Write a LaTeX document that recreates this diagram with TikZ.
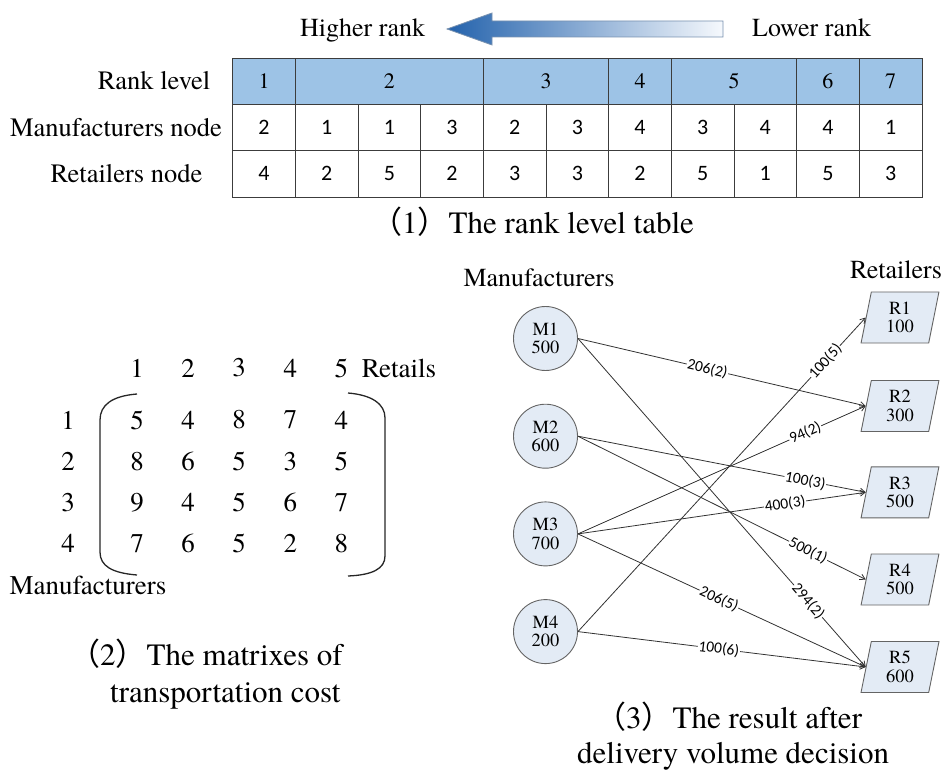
\documentclass[tikz,border=0pt]{standalone}
\usepackage{fontspec}
\setmainfont{TeX Gyre Termes}
\newfontfamily\calib{Carlito}
\newfontfamily\cjk{Noto Sans CJK SC}
\usetikzlibrary{shapes.geometric,arrows.meta}

\definecolor{hdrblue}{RGB}{157,195,230}
\definecolor{gridline}{RGB}{60,60,60}
\definecolor{nodefill}{RGB}{227,235,245}
\definecolor{nodeline}{RGB}{100,100,100}
\definecolor{edgecol}{RGB}{50,50,50}
\definecolor{arrowdark}{RGB}{35,98,172}
\definecolor{arrowmid}{RGB}{150,188,226}
\definecolor{arrowlight}{RGB}{246,249,253}
\definecolor{arrowedge}{RGB}{120,145,175}

\newcommand{\lp}{{\cjk （}}
\newcommand{\rp}{{\cjk ）}}

\begin{document}
\begin{tikzpicture}[x=1pt,y=-1pt,
  hdrcell/.style={draw=gridline, fill=hdrblue, line width=0.8pt, minimum height=46pt,
    inner sep=0pt, font=\fontsize{22}{24}\selectfont},
  numcell/.style={draw=gridline, fill=white, line width=0.8pt, minimum width=62.66pt,
    minimum height=46.5pt, inner sep=0pt, font=\calib\fontsize{22}{24}\selectfont},
  rowlbl/.style={inner sep=0pt, font=\fontsize{26.5}{30}\selectfont},
  toplbl/.style={inner sep=0pt, anchor=base west, font=\fontsize{26}{30}\selectfont},
  matnum/.style={inner sep=0pt, font=\fontsize{27}{30}\selectfont},
  caption/.style={inner sep=0pt, anchor=base west, font=\fontsize{31}{36}\selectfont},
  grouplbl/.style={inner sep=0pt, font=\fontsize{26}{30}\selectfont},
  mnode/.style={circle, draw=nodeline, fill=nodefill, line width=0.9pt, minimum size=64pt,
    inner sep=0pt, align=center, font=\fontsize{18.5}{18.5}\selectfont},
  rnode/.style={trapezium, trapezium left angle=81, trapezium right angle=99,
    trapezium stretches=true, draw=nodeline, fill=nodefill, line width=0.9pt,
    minimum width=78pt, minimum height=51pt, inner sep=0pt, align=center,
    font=\fontsize{18.5}{18.5}\selectfont},
  flow/.style={draw=edgecol, line width=0.8pt, -{Straight Barb[length=5pt,width=6pt]}},
  flowlbl/.style={sloped, fill=white, text=black, inner sep=0.8pt,
    font=\calib\fontsize{15.5}{15.5}\selectfont},
  parenline/.style={draw=black!85, line width=1.3pt}
]
\useasboundingbox (0,0) rectangle (943,770);

% ---------- rank direction arrow ----------
\node[toplbl] (hi) at (300,37) {Higher rank};
\node[toplbl] (lo) at (752,37) {Lower rank};
\shadedraw[draw=arrowedge, line width=0.8pt, left color=arrowdark, middle color=arrowmid,
  right color=arrowlight]
  (447,29) -- (492,13) -- (492,21) -- (723,21) -- (723,37) -- (492,37) -- (492,45) -- cycle;

% ---------- rank level table ----------
\node[rowlbl] (lblrank) at (154,81) {Rank level};
\node[rowlbl] (lblman)  at (116,127.3) {Manufacturers node};
\node[rowlbl] (lblret)  at (126.5,173.8) {Retailers node};

\node[hdrcell, minimum width=62.66pt]  (h1) at (264.03,81) {1};
\node[hdrcell, minimum width=187.98pt] (h2) at (389.35,81) {2};
\node[hdrcell, minimum width=125.32pt] (h3) at (546.00,81) {3};
\node[hdrcell, minimum width=62.66pt]  (h4) at (640.01,81) {4};
\node[hdrcell, minimum width=125.32pt] (h5) at (734.00,81) {5};
\node[hdrcell, minimum width=62.66pt]  (h6) at (827.97,81) {6};
\node[hdrcell, minimum width=62.66pt]  (h7) at (890.63,81) {7};

\foreach \v [count=\i] in {2,1,1,3,2,3,4,3,4,4,1}
  \node[numcell] (m\i) at ({232.7+62.66*(\i-0.5)},127.3) {\v};
\foreach \v [count=\i] in {4,2,5,2,3,3,2,5,1,5,3}
  \node[numcell] (r\i) at ({232.7+62.66*(\i-0.5)},173.8) {\v};

\node[caption] (cap1) at (371,234) {\lp1\rp The rank level table};

% ---------- cost matrix ----------
\foreach \v [count=\j] in {1,2,3,4,5}
  \node[matnum] (ch\j) at ({137+51.1*(\j-1)},368) {\v};
\node[matnum] (retails) at (399,368.5) {Retails};

\foreach \v [count=\i] in {1,2,3,4}
  \node[matnum] (rh\i) at (68,{420+41.1*(\i-1)}) {\v};

\foreach \row [count=\i] in {{5,4,8,7,4},{8,6,5,3,5},{9,4,5,6,7},{7,6,5,2,8}}
  \foreach \v [count=\j] in \row
    \node[matnum] (c\i\j) at ({137+51.1*(\j-1)},{420+41.1*(\i-1)}) {\v};

\node[matnum] (manlbl) at (88,585.5) {Manufacturers};

\draw[parenline] (137,394) .. controls (112,396) and (100,405) .. (100,420)
  -- (100,552) .. controls (100,566) and (112,573) .. (137,575);
\draw[parenline] (348,393) .. controls (372,395) and (385,404) .. (385,418)
  -- (385,556) .. controls (385,569) and (372,575) .. (348,576);

\node[caption] (cap2a) at (69,665) {\lp2\rp The matrixes of};
\node[caption] (cap2b) at (110,702) {transportation cost};

% ---------- delivery network ----------
\node[grouplbl] (mhead) at (539,278) {Manufacturers};
\node[grouplbl] (rhead) at (896,270) {Retailers};

\node[mnode] (M1) at (545.5,338.5) {M1\\500};
\node[mnode] (M2) at (545.5,436.2) {M2\\600};
\node[mnode] (M3) at (545.5,533.9) {M3\\700};
\node[mnode] (M4) at (545.5,631.6) {M4\\200};

\node[rnode] (R1) at (900,317.5) {R1\\100};
\node[rnode] (R2) at (900,406)   {R2\\300};
\node[rnode] (R3) at (900,492.3) {R3\\500};
\node[rnode] (R4) at (900,579.5) {R4\\500};
\node[rnode] (R5) at (900,667)   {R5\\600};

\draw[flow] (M1.east) -- node[flowlbl, pos=0.45] {206(2)} (R2.west);
\draw[flow] (M1.east) -- node[flowlbl, pos=0.80] {294(2)} (R5.west);
\draw[flow] (M2.east) -- node[flowlbl, pos=0.79] {100(3)} (R3.west);
\draw[flow] (M2.east) -- node[flowlbl, pos=0.80] {500(1)} (R4.west);
\draw[flow] (M3.east) -- node[flowlbl, pos=0.79] {94(2)}  (R2.west);
\draw[flow] (M3.east) -- node[flowlbl, pos=0.72] {400(3)} (R3.west);
\draw[flow] (M3.east) -- node[flowlbl, pos=0.49] {206(5)} (R5.west);
\draw[flow] (M4.east) -- node[flowlbl, pos=0.86] {100(5)} (R1.west);
\draw[flow] (M4.east) -- node[flowlbl, pos=0.49] {100(6)} (R5.west);

\node[caption] (cap3a) at (595,728.5) {\lp3\rp The result after};
\node[caption] (cap3b) at (577,763) {delivery volume decision};
\end{tikzpicture}
\end{document}
